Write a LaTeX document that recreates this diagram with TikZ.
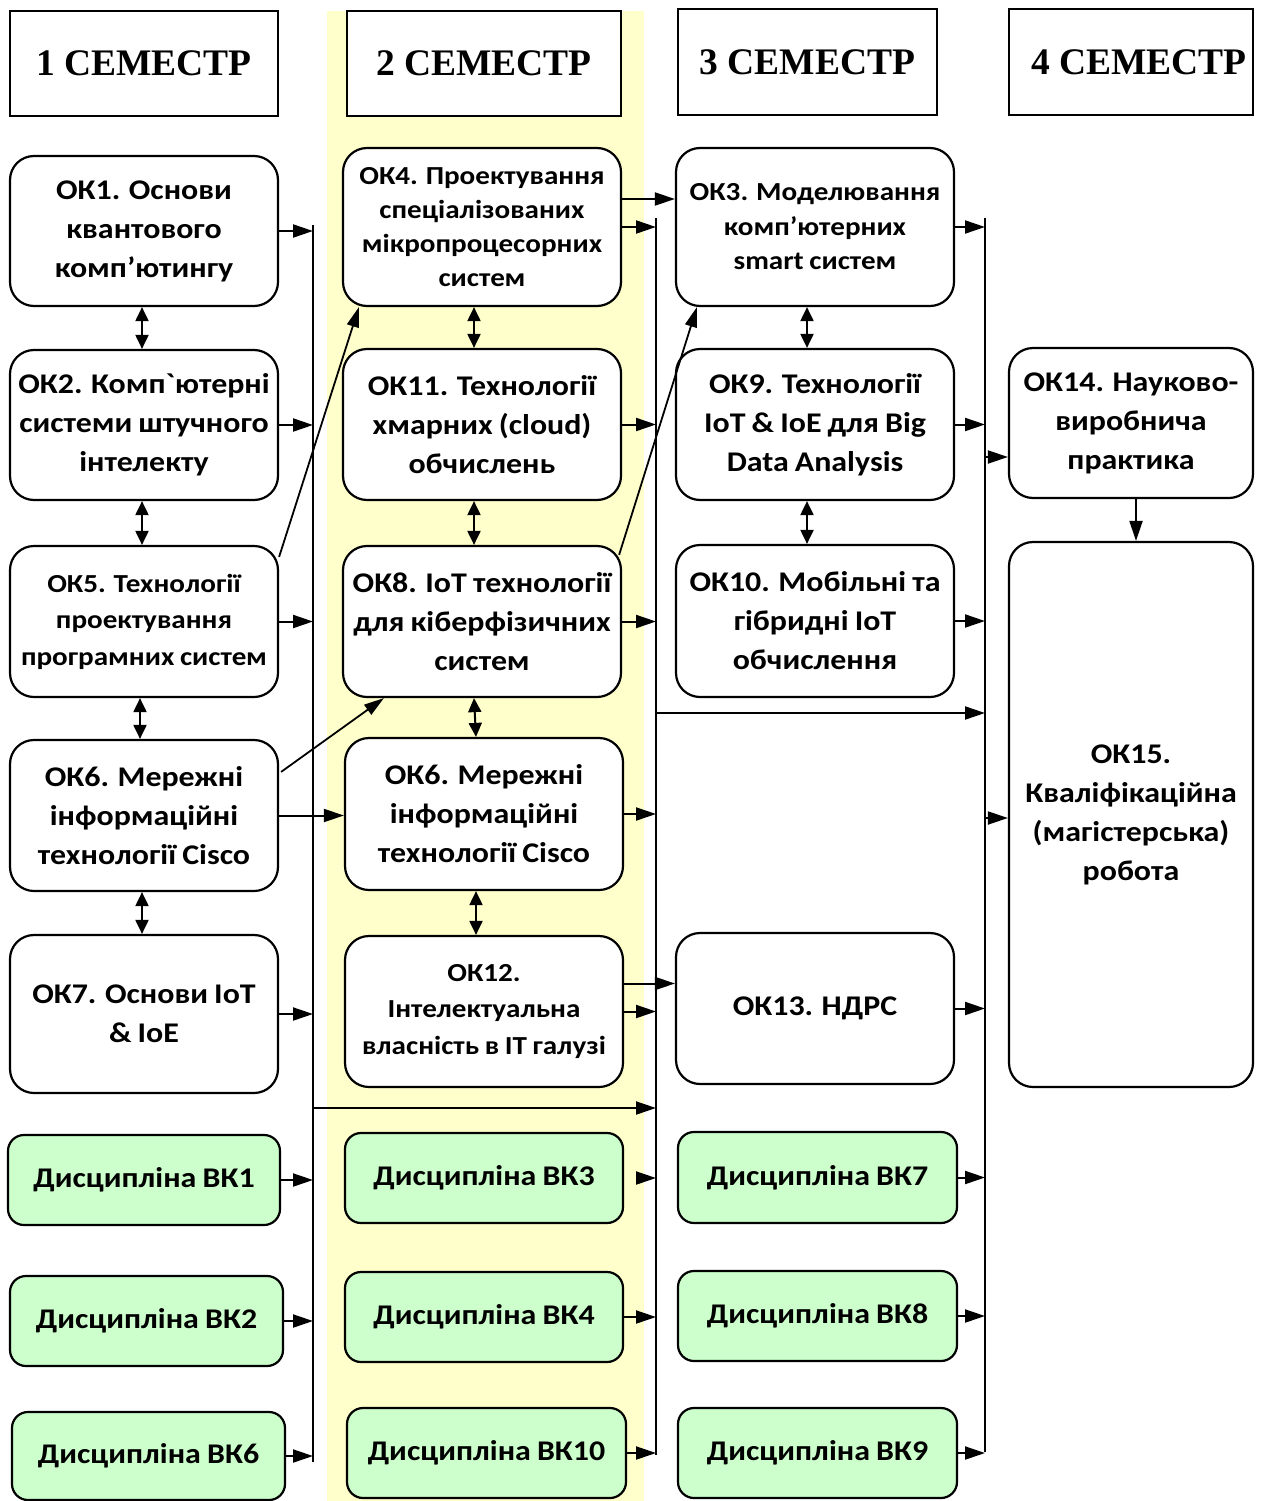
\documentclass[tikz,border=0pt]{standalone}
\usepackage{fontspec}
\usetikzlibrary{arrows.meta,calc}
\newfontfamily\bodyfont{Carlito}[FakeStretch=1.12, WordSpace=0.85]
\newfontfamily\headfont{Liberation Serif}
\newcommand\myfA{\bodyfont\bfseries\fontsize{28.5}{39}\selectfont}
\newcommand\myfB{\bodyfont\bfseries\fontsize{26}{36.5}\selectfont}
\newcommand\myfD{\bodyfont\bfseries\fontsize{26}{34.5}\selectfont}
\newcommand\myfC{\bodyfont\bfseries\fontsize{26}{34}\selectfont}
\newcommand\myfH{\headfont\bfseries\fontsize{37.5}{40}\selectfont}
\definecolor{bandyellow}{HTML}{FFFFCC}
\definecolor{vkgreen}{HTML}{CCFFCC}
\tikzset{
  hdr/.style={draw, line width=1.8pt, fill=white, inner sep=0pt, font=\myfH},
  okbox/.style={draw, line width=2.2pt, rounded corners=24pt, fill=white, inner sep=0pt, align=center, font=\myfA},
  vkbox/.style={draw, line width=2.2pt, rounded corners=16pt, fill=vkgreen, inner sep=0pt, align=center, font=\myfA},
  arr/.style={line width=2pt, -{Triangle[length=20pt,width=13pt]}},
  darr/.style={line width=2pt, {Triangle[length=14pt,width=13pt]}-{Triangle[length=14pt,width=13pt]}},
  bus/.style={line width=2pt},
  diag/.style={line width=1.8pt, -{Triangle[length=20pt,width=12pt]}}
}
\begin{document}
\begin{tikzpicture}[x=1pt,y=-1pt]
\useasboundingbox (0,0) rectangle (1261,1501);
\fill[bandyellow] (327,11) rectangle (644,1501);

% headers
\node[hdr, minimum width=268pt, minimum height=105pt] (h1) at (144,63.5) {1 СЕМЕСТР};
\node[hdr, minimum width=274pt, minimum height=105pt] (h2) at (484,63.5) {2 СЕМЕСТР};
\node[hdr, minimum width=259pt, minimum height=106pt] (h3) at (807.5,62) {3 СЕМЕСТР};
\node[hdr, minimum width=244pt, minimum height=106pt] (h4) at (1131,62) {\hspace*{16pt}4 СЕМЕСТР};

% column 1
\node[okbox, minimum width=268pt, minimum height=150pt] (ok1) at (144,231) {ОК1. Основи\\квантового\\комп’ютингу};
\node[okbox, minimum width=268pt, minimum height=150pt] (ok2) at (144,425) {ОК2. Комп`ютерні\\системи штучного\\інтелекту};
\node[okbox, minimum width=268pt, minimum height=151pt, font=\myfB] (ok5) at (144,621.5) {ОК5. Технології\\проектування\\програмних систем};
\node[okbox, minimum width=268pt, minimum height=151pt] (ok6a) at (144,815.5) {ОК6. Мережні\\інформаційні\\технології Cisco};
\node[okbox, minimum width=268pt, minimum height=158pt] (ok7) at (144,1014) {ОК7. Основи IoT\\\& IoE};
\node[vkbox, minimum width=272pt, minimum height=90pt] (vk1) at (144,1180) {Дисципліна ВК1};
\node[vkbox, minimum width=273pt, minimum height=90pt] (vk2) at (146.5,1321) {Дисципліна ВК2};
\node[vkbox, minimum width=273pt, minimum height=88pt] (vk6) at (148.5,1456) {Дисципліна ВК6};

% column 2
\node[okbox, minimum width=278pt, minimum height=158pt, font=\myfC] (ok4) at (482,227) {ОК4. Проектування\\спеціалізованих\\мікропроцесорних\\систем};
\node[okbox, minimum width=278pt, minimum height=151pt] (ok11) at (482,424.5) {ОК11. Технології\\хмарних (cloud)\\обчислень};
\node[okbox, minimum width=278pt, minimum height=151pt] (ok8) at (482,621.5) {ОК8. IoT технології\\для кіберфізичних\\систем};
\node[okbox, minimum width=278pt, minimum height=152pt] (ok6b) at (484,814) {ОК6. Мережні\\інформаційні\\технології Cisco};
\node[okbox, minimum width=278pt, minimum height=151pt, font=\myfB] (ok12) at (484,1011.5) {ОК12.\\Інтелектуальна\\власність в IT галузі};
\node[vkbox, minimum width=278pt, minimum height=90pt] (vk3) at (484,1178) {Дисципліна ВК3};
\node[vkbox, minimum width=278pt, minimum height=90pt] (vk4) at (484,1317) {Дисципліна ВК4};
\node[vkbox, minimum width=279pt, minimum height=90pt] (vk10) at (486.5,1453) {Дисципліна ВК10};

% column 3
\node[okbox, minimum width=278pt, minimum height=158pt, font=\myfD] (ok3) at (815,227) {ОК3. Моделювання\\комп’ютерних\\smart систем};
\node[okbox, minimum width=278pt, minimum height=151pt] (ok9) at (815,424.5) {ОК9. Технології\\IoT \& IoE для Big\\Data Analysis};
\node[okbox, minimum width=278pt, minimum height=152pt] (ok10) at (815,621) {ОК10. Мобільні та\\гібридні IoT\\обчислення};
\node[okbox, minimum width=278pt, minimum height=151pt] (ok13) at (815,1008.5) {ОК13. НДРС};
\node[vkbox, minimum width=279pt, minimum height=91pt] (vk7) at (817.5,1177.5) {Дисципліна ВК7};
\node[vkbox, minimum width=279pt, minimum height=90pt] (vk8) at (817.5,1316) {Дисципліна ВК8};
\node[vkbox, minimum width=279pt, minimum height=90pt] (vk9) at (817.5,1453) {Дисципліна ВК9};

% column 4
\node[okbox, minimum width=244pt, minimum height=150pt] (ok14) at (1131,423) {ОК14. Науково-\\виробнича\\практика};
\node[okbox, minimum width=244pt, minimum height=545pt] (ok15) at (1131,814.5) {ОК15.\\Кваліфікаційна\\(магістерська)\\робота};

% buses
\coordinate (b1top) at (313,225);
\coordinate (b1bot) at (313,1462);
\coordinate (b2top) at (656,218);
\coordinate (b2bot) at (656,1455);
\coordinate (b3top) at (985,218);
\coordinate (b3bot) at (985,1452);
\draw[bus] (b1top) -- (b1bot);
\draw[bus] (b2top) -- (b2bot);
\draw[bus] (b3top) -- (b3bot);

% vertical double arrows
\draw[darr] ([xshift=-2pt]ok1.south) -- ([xshift=-2pt]ok2.north);
\draw[darr] ([xshift=-2pt]ok2.south) -- ([xshift=-2pt]ok5.north);
\draw[darr] ([xshift=-4pt]ok5.south) -- ([xshift=-4pt]ok6a.north);
\draw[darr] ([xshift=-2pt]ok6a.south) -- ([xshift=-2pt]ok7.north);
\draw[darr] ([xshift=-8pt]ok4.south) -- ([xshift=-8pt]ok11.north);
\draw[darr] ([xshift=-8pt]ok11.south) -- ([xshift=-8pt]ok8.north);
\draw[darr] ([xshift=-8pt]ok8.south) -- ([xshift=-8pt]ok6b.north);
\draw[darr] ([xshift=-8pt]ok6b.south) -- ([xshift=-8pt]ok12.north);
\draw[darr] ([xshift=-8pt]ok3.south) -- ([xshift=-8pt]ok9.north);
\draw[darr] ([xshift=-8pt]ok9.south) -- ([xshift=-8pt]ok10.north);

% column 1 into bus 1
\foreach \n in {ok1,ok2,ok5,ok7,vk1,vk2,vk6}
  \draw[arr] (\n.east) -- (\n.east -| b1top);
\draw[arr] (ok6a.east) -- (ok6a.east -| ok6b.west);

% column 2 into bus 2
\foreach \n in {ok4,ok11,ok8,ok6b,ok12,vk4,vk10}
  \draw[arr] (\n.east) -- (\n.east -| b2top);
\draw[arr] ([yshift=28pt]ok4.east) -- ([yshift=28pt]ok4.east -| ok3.west);
\draw[arr] ([yshift=28pt]ok12.east) -- ([yshift=28pt]ok12.east -| ok13.west);
\draw[arr] ([xshift=16pt]vk3.east) -- (vk3.east -| b2top);

% column 3 into bus 3
\foreach \n in {ok3,ok9,ok10,ok13,vk7,vk8,vk9}
  \draw[arr] (\n.east) -- (\n.east -| b3top);

% bus to bus
\coordinate (j12) at (313,1108);
\draw[arr] (j12) -- (j12 -| b2top);
\coordinate (j23) at (656,713);
\draw[arr] (j23) -- (j23 -| b3top);

% bus 3 to column 4
\coordinate (j3a) at (985,457);
\draw[arr] (j3a) -- (j3a -| ok14.west);
\coordinate (j3b) at (985,818);
\draw[arr] (j3b) -- (j3b -| ok15.west);
\draw[arr] ([xshift=5pt]ok14.south) -- ([xshift=5pt]ok15.north);

% diagonal arrows
\draw[diag] ($(ok5.north east)+(0,12)$) -- ($(ok4.south west)+(17,0)$);
\draw[diag] ($(ok6a.north east)+(2,33)$) -- ($(ok8.south west)+(42,0)$);
\draw[diag] ($(ok8.north east)+(-3,10)$) -- ($(ok3.south west)+(22,0)$);
\end{tikzpicture}
\end{document}
